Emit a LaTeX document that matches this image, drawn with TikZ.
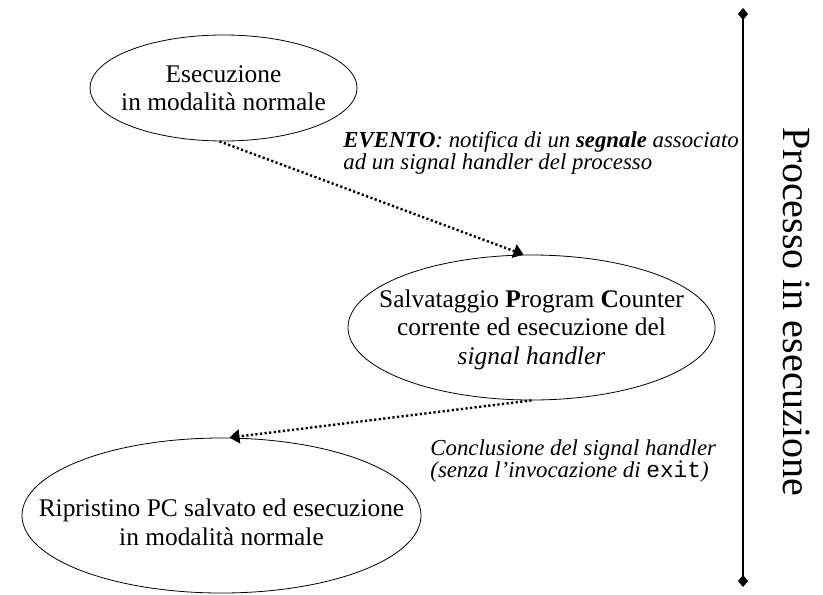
\documentclass[tikz,border=0pt]{standalone}
\usepackage{fontspec}
\setmainfont{Liberation Serif}
\setmonofont{Liberation Mono}
\usetikzlibrary{shapes.geometric,arrows.meta}

\begin{document}
\begin{tikzpicture}[x=0.5pt,y=-0.5pt,
	stato/.style={draw, ellipse, inner sep=0pt},
	testo/.style={align=center, inner sep=0pt, font=\fontsize{12.7}{14.2}\selectfont},
	evento/.style={anchor=west, align=left, inner sep=0pt, font=\fontsize{11.4}{11}\selectfont\itshape},
	transizione/.style={line width=1.2pt, dash pattern=on 1.1pt off 1.2pt, -{Triangle[length=5pt,width=7pt]}}]
	\useasboundingbox (0,0) rectangle (823,594);
	\node[stato, minimum width=133.5pt, minimum height=53pt,
		label={[testo]center:{Esecuzione\\in modalità normale}}] (normale) at (223.5,88) {};
	\node[stato, minimum width=183.5pt, minimum height=72.5pt,
		label={[testo, yshift=-1pt]center:{Salvataggio \textbf{P}rogram \textbf{C}ounter\\corrente ed esecuzione del\\\textit{signal handler}}}] (handler) at (531.5,327.5) {};
	\node[stato, minimum width=199.5pt, minimum height=77.5pt,
		label={[testo, yshift=-3.5pt]center:{Ripristino PC salvato ed esecuzione\\in modalità normale}}] (ripristino) at (221.5,515.5) {};
	\node[evento] (notifica) at (343,152.5) {\textbf{EVENTO}: notifica di un \textbf{segnale} associato\\ad un signal handler del processo};
	\node[evento] (conclusione) at (430,461) {Conclusione del signal handler\\(senza l'invocazione di \texttt{\upshape exit})};
	\draw[transizione] ([xshift=-2pt]normale.south) -- ([xshift=-4pt]handler.north);
	\draw[transizione] (handler.south) -- ([xshift=4pt]ripristino.north);
	\coordinate (inizio) at (743,8);
	\coordinate (fine) at (743,587);
	\draw[line width=0.6pt, {Diamond[length=6pt,width=5pt]}-{Diamond[length=6pt,width=5pt]}] (inizio) -- (fine);
	\node[rotate=-90, font=\fontsize{20}{24}\selectfont] (processo) at (797,312) {Processo in esecuzione};
\end{tikzpicture}
\end{document}
